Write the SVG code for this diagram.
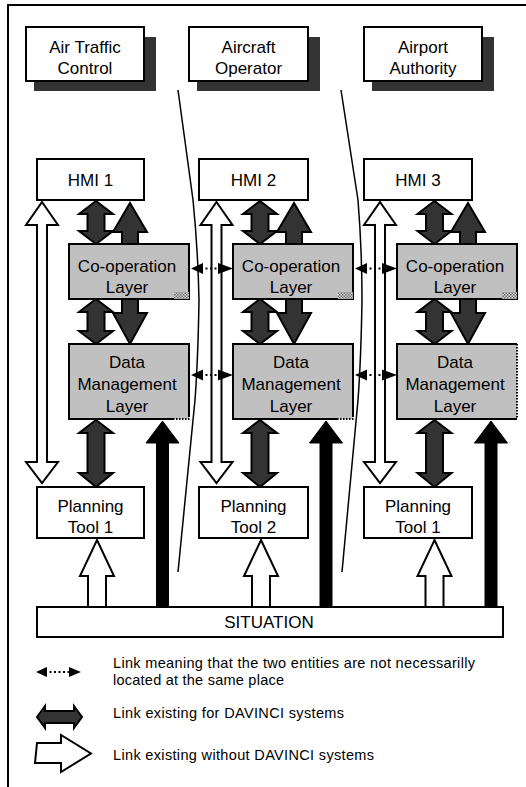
<svg xmlns="http://www.w3.org/2000/svg" xmlns:xlink="http://www.w3.org/1999/xlink" width="526" height="787" viewBox="0 0 526 787">
<style>
.box{fill:#fff;stroke:#000;stroke-width:2}
.layer{fill:#c0c0c0;stroke:#000;stroke-width:2}
.shadow{fill:#333}
.lbl{font-family:"Liberation Sans",Arial,sans-serif;font-size:17px;fill:#000;text-anchor:middle}
.leg{font-family:"Liberation Sans",Arial,sans-serif;font-size:14.5px;fill:#000}
.dark{fill:#333;stroke:#000;stroke-width:2;stroke-linejoin:miter}
.black{fill:#000;stroke:#000;stroke-width:1}
.white{fill:#fff;stroke:#000;stroke-width:2;stroke-linejoin:miter}
.div{fill:none;stroke:#000;stroke-width:1.5}
.dots{stroke:#000;stroke-width:2;stroke-dasharray:2,2.5;fill:none}
.edgedot{stroke:#000;stroke-width:2;stroke-dasharray:1.5,1.5;fill:none}
</style>
<defs>
<pattern id="chk" width="3" height="3" patternUnits="userSpaceOnUse">
<rect width="3" height="3" fill="#ddd"/>
<rect width="1.5" height="1.5" fill="#666"/>
<rect x="1.5" y="1.5" width="1.5" height="1.5" fill="#666"/>
</pattern>
<path id="dblA" class="dark" d="M96,201 L113,214 L104.5,214 L104.5,231 L113,231 L96,244 L79,231 L87.5,231 L87.5,214 L79,214 Z"/>
<path id="upA" class="dark" d="M130,203 L147,232 L138,232 L138,244 L122,244 L122,232 L113,232 Z"/>
<path id="dblB" class="dark" d="M96,299 L113,312 L104.5,312 L104.5,331 L113,331 L96,344 L79,331 L87.5,331 L87.5,312 L79,312 Z"/>
<path id="downB" class="dark" d="M122,299 L138,299 L138,313 L147,313 L130,344 L113,313 L122,313 Z"/>
<path id="dblC" class="dark" d="M96,420 L113,433 L104.5,433 L104.5,473 L113,473 L96,487 L79,473 L87.5,473 L87.5,433 L79,433 Z"/>
<path id="blackUp" class="black" d="M162.5,421 L179,443 L168.5,443 L168.5,607 L156.5,607 L156.5,443 L146,443 Z"/>
<path id="whiteUp" class="white" d="M97,540 L114,576 L106,576 L106,607 L88,607 L88,576 L80,576 Z"/>
<path id="whiteTall" class="white" d="M42,202 L58,225 L47,225 L47,462 L58,462 L42,483 L26,462 L37,462 L37,225 L26,225 Z"/>
<g id="dotLink">
<line class="dots" x1="201" y1="268.5" x2="220" y2="268.5"/>
<path d="M191,268.5 L203,263 L203,274 Z M233,268.5 L218,263 L218,274 Z" fill="#000"/>
</g>
</defs>

<!-- frame -->
<path d="M8,787 L8,5 L526,5" fill="none" stroke="#000" stroke-width="2"/>

<!-- actors -->
<g id="atc">
<rect class="shadow" x="34" y="37" width="122" height="54"/>
<rect class="box" x="26" y="27" width="118" height="54"/>
<text class="lbl" x="85" y="53">Air Traffic</text>
<text class="lbl" x="85" y="74">Control</text>
</g>
<g id="aircraft-operator">
<rect class="shadow" x="197" y="37" width="123" height="54"/>
<rect class="box" x="189" y="27" width="119" height="54"/>
<text class="lbl" x="248.5" y="53">Aircraft</text>
<text class="lbl" x="248.5" y="74">Operator</text>
</g>
<g id="airport-authority">
<rect class="shadow" x="372" y="37" width="122" height="54"/>
<rect class="box" x="364" y="27" width="118" height="54"/>
<text class="lbl" x="423" y="53">Airport</text>
<text class="lbl" x="423" y="74">Authority</text>
</g>

<!-- dividers -->
<path class="div" d="M178,90 L193,200 Q198,250 199,300 Q198,360 195,400 L178,572"/>
<path class="div" d="M341,90 L358,200 Q362,250 362,300 Q361,360 358,400 L342,572"/>

<!-- connectors -->
<g id="connectors">
<use xlink:href="#whiteTall"/>
<use xlink:href="#whiteTall" x="174.5"/>
<use xlink:href="#whiteTall" x="338"/>
<use xlink:href="#dblA"/><use xlink:href="#dblA" x="164"/><use xlink:href="#dblA" x="338.5"/>
<use xlink:href="#upA"/><use xlink:href="#upA" x="164"/><use xlink:href="#upA" x="338"/>
<use xlink:href="#dblB"/><use xlink:href="#dblB" x="164"/><use xlink:href="#dblB" x="338.5"/>
<use xlink:href="#downB"/><use xlink:href="#downB" x="164"/><use xlink:href="#downB" x="338"/>
<use xlink:href="#dblC"/><use xlink:href="#dblC" x="164"/><use xlink:href="#dblC" x="338.5"/>
<use xlink:href="#blackUp"/><use xlink:href="#blackUp" x="163.5"/><use xlink:href="#blackUp" x="328.5"/>
<use xlink:href="#whiteUp"/><use xlink:href="#whiteUp" x="164"/><use xlink:href="#whiteUp" x="337.5"/>
<use xlink:href="#dotLink"/>
<use xlink:href="#dotLink" y="106.5"/>
<use xlink:href="#dotLink" x="164"/>
<use xlink:href="#dotLink" x="164" y="106.5"/>
</g>

<!-- HMI -->
<g id="hmi1"><rect class="box" x="37" y="159" width="107" height="41"/><text class="lbl" x="90.5" y="186">HMI 1</text></g>
<g id="hmi2"><rect class="box" x="199" y="159" width="109" height="41"/><text class="lbl" x="253.5" y="186">HMI 2</text></g>
<g id="hmi3"><rect class="box" x="364" y="159" width="108" height="41"/><text class="lbl" x="418" y="186">HMI 3</text></g>

<!-- Co-operation layers -->
<g id="coop1"><rect class="layer" x="69" y="244" width="120" height="55"/><rect x="174" y="292" width="15" height="7" fill="url(#chk)"/><text class="lbl" x="127" y="272">Co-operation</text><text class="lbl" x="127" y="293">Layer</text></g>
<g id="coop2"><rect class="layer" x="233" y="244" width="120" height="55"/><rect x="338" y="292" width="15" height="7" fill="url(#chk)"/><text class="lbl" x="291" y="272">Co-operation</text><text class="lbl" x="291" y="293">Layer</text></g>
<g id="coop3"><rect class="layer" x="397" y="244" width="120" height="55"/><rect x="502" y="292" width="15" height="7" fill="url(#chk)"/><text class="lbl" x="455" y="272">Co-operation</text><text class="lbl" x="455" y="293">Layer</text></g>

<!-- Data Management layers -->
<g id="data1"><rect x="69" y="344" width="120" height="75" fill="#c0c0c0"/><path d="M173,419 L69,419 L69,344 L189,344 L189,417" fill="none" stroke="#000" stroke-width="2"/><path class="edgedot" d="M173,419 L190,419"/><text class="lbl" x="127" y="368">Data</text><text class="lbl" x="127" y="390">Management</text><text class="lbl" x="127" y="412">Layer</text></g>
<g id="data2"><rect x="233" y="344" width="120" height="75" fill="#c0c0c0"/><path d="M337,419 L233,419 L233,344 L353,344 L353,417" fill="none" stroke="#000" stroke-width="2"/><path class="edgedot" d="M337,419 L354,419"/><text class="lbl" x="291" y="368">Data</text><text class="lbl" x="291" y="390">Management</text><text class="lbl" x="291" y="412">Layer</text></g>
<g id="data3"><rect x="397" y="344" width="120" height="75" fill="#c0c0c0"/><path d="M517,344 L397,344 L397,419 L517,419" fill="none" stroke="#000" stroke-width="2"/><path class="edgedot" d="M517,344 L517,419"/><text class="lbl" x="455" y="368">Data</text><text class="lbl" x="455" y="390">Management</text><text class="lbl" x="455" y="412">Layer</text></g>

<!-- Planning tools -->
<g id="plan1"><rect class="box" x="37" y="487" width="107" height="51"/><text class="lbl" x="90.5" y="512">Planning</text><text class="lbl" x="90.5" y="533">Tool 1</text></g>
<g id="plan2"><rect class="box" x="199" y="487" width="109" height="51"/><text class="lbl" x="253.5" y="512">Planning</text><text class="lbl" x="253.5" y="533">Tool 2</text></g>
<g id="plan3"><rect class="box" x="364" y="487" width="108" height="51"/><text class="lbl" x="418" y="512">Planning</text><text class="lbl" x="418" y="533">Tool 1</text></g>

<!-- Situation -->
<g id="situation"><rect class="box" x="37" y="607" width="466" height="30"/><text class="lbl" x="269" y="628">SITUATION</text></g>

<!-- legend -->
<g id="legend">
<line class="dots" x1="45" y1="672" x2="71" y2="672"/>
<path d="M36,672 L47,667 L47,677 Z M81,672 L69,667 L69,677 Z" fill="#000"/>
<path class="dark" d="M37,717 L45,706 L45,711 L74,711 L74,706 L82,717 L74,728 L74,723 L45,723 L45,728 Z"/>
<path class="white" d="M37,743 L61,743 L61,735 L91,753.5 L61,772 L61,763 L35,763 Z"/>
<text class="leg" x="113" y="668" textLength="362" lengthAdjust="spacing">Link meaning that the two entities are not necessarilly</text>
<text class="leg" x="113" y="685" textLength="171" lengthAdjust="spacing">located at the same place</text>
<text class="leg" x="113" y="718" textLength="231" lengthAdjust="spacing">Link existing for DAVINCI systems</text>
<text class="leg" x="113" y="760" textLength="261" lengthAdjust="spacing">Link existing without DAVINCI systems</text>
</g>
</svg>
